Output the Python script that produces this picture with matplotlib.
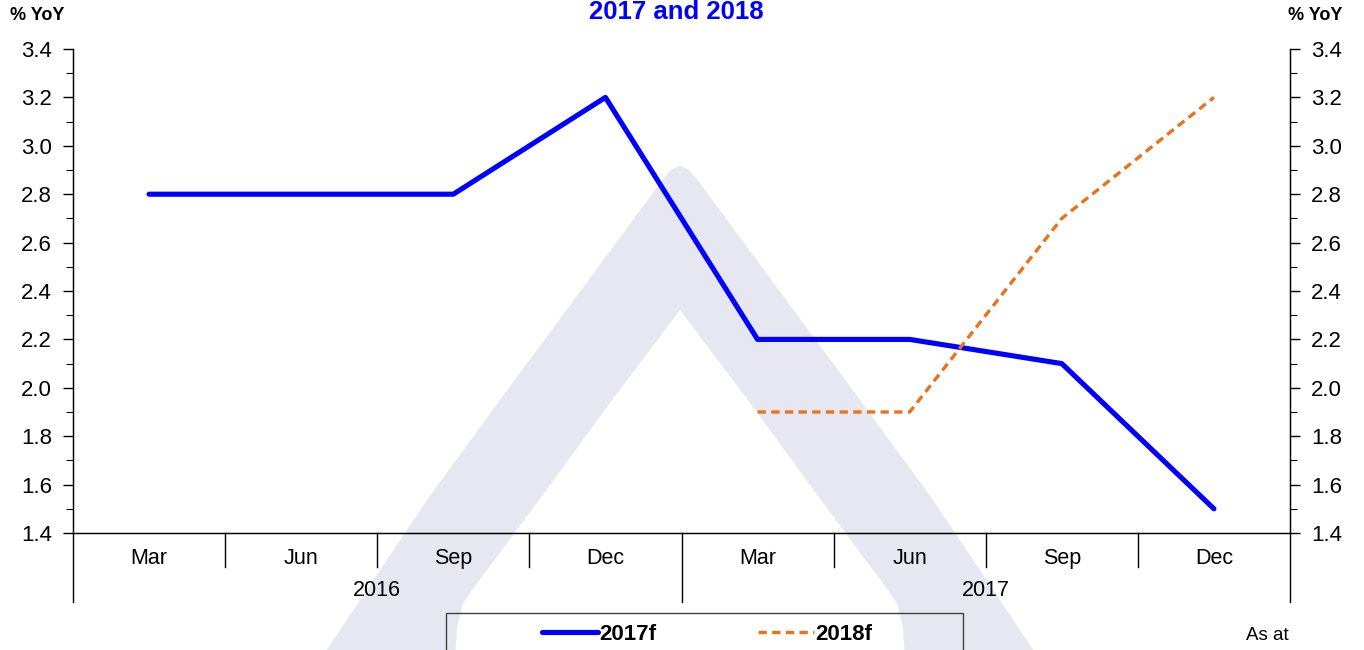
import matplotlib
matplotlib.use("Agg")
import matplotlib.pyplot as plt
import numpy as np
from matplotlib.lines import Line2D
from matplotlib.patches import Polygon, Rectangle
from matplotlib.ticker import MultipleLocator, FormatStrFormatter
import matplotlib.transforms as mtransforms

plt.rcParams["font.family"] = ["Liberation Sans", "DejaVu Sans"]

# data
months = ["Mar", "Jun", "Sep", "Dec", "Mar", "Jun", "Sep", "Dec"]
years = ["2016", "2017"]
f2017 = [2.8, 2.8, 2.8, 3.2, 2.2, 2.2, 2.1, 1.5]
f2018 = [np.nan, np.nan, np.nan, np.nan, 1.9, 1.9, 2.7, 3.2]
y_ticks = [1.4, 1.6, 1.8, 2.0, 2.2, 2.4, 2.6, 2.8, 3.0, 3.2, 3.4]

W, H = 1364, 650
fig = plt.figure(figsize=(W / 100, H / 100), dpi=100)


def fx(px):
    return px / W


def fy(py):
    return 1 - py / H


# faint logo in the background (pixel outline, left half mirrored)
cx = 680
outer_l = [(320, 660), (427, 500), (500, 400), (664, 178), (672, 169), (680, 166)]
inner_l = [(680, 310), (612, 400), (539, 500), (478, 582), (463, 603), (457, 628), (455, 660)]
outer_r = [(2 * cx - x, y) for x, y in reversed(outer_l[:-1])]
inner_r = [(2 * cx - x, y) for x, y in reversed(inner_l[1:])]
pts = outer_l + outer_r + inner_r + inner_l
logo = Polygon([(fx(x), fy(y)) for x, y in pts], closed=True, transform=fig.transFigure,
               facecolor="#e7e7f2", edgecolor="none", zorder=-5)
fig.patches.append(logo)

x0, x1, ytop, ybot = 73, 1290, 49, 533
ax = fig.add_axes([fx(x0), fy(ybot), fx(x1) - fx(x0), (ybot - ytop) / H])
ax.patch.set_alpha(0)
x = np.arange(len(months))

ax.plot(x, f2017, color="#0000ff", lw=3.7, solid_capstyle="round",
        solid_joinstyle="round", zorder=3)
ax.plot(x, f2018, color="#e8731e", lw=2.4, dashes=(2.5, 1.6), zorder=3)

ax.set_xlim(-0.5, 7.5)
ax.set_ylim(1.4, 3.4)
ax.set_yticks(y_ticks)
ax.yaxis.set_minor_locator(MultipleLocator(0.1))
ax.yaxis.set_major_formatter(FormatStrFormatter("%.1f"))
ax.tick_params(axis="y", which="major", length=7, width=1, labelsize=16, pad=8)
ax.tick_params(axis="y", which="minor", length=5, width=0.8)
ax.set_xticks(x)
ax.set_xticklabels(months)
ax.tick_params(axis="x", length=0, labelsize=15.5, pad=11)
ax.spines["top"].set_visible(False)
for s in ["left", "right", "bottom"]:
    ax.spines[s].set_linewidth(1)

ax2 = ax.twinx()
ax2.set_ylim(1.4, 3.4)
ax2.set_yticks(y_ticks)
ax2.yaxis.set_minor_locator(MultipleLocator(0.1))
ax2.yaxis.set_major_formatter(FormatStrFormatter("%.1f"))
ax2.tick_params(axis="y", which="major", length=7, width=1, labelsize=16, pad=8)
ax2.tick_params(axis="y", which="minor", length=5, width=0.8)
ax2.spines["top"].set_visible(False)
ax2.patch.set_alpha(0)

# category dividers below the axis
trans = mtransforms.blended_transform_factory(ax.transData, ax.transAxes)
short = (ybot - 567) / (ybot - ytop)
long_ = (ybot - 602) / (ybot - ytop)
for b in np.arange(-0.5, 8, 1.0):
    low = long_ if b in (-0.5, 3.5, 7.5) else short
    ax.plot([b, b], [0, low], color="black", lw=1, transform=trans, clip_on=False)
for i, yr in enumerate(years):
    ax.text(1.5 + 4 * i, (ybot - 591) / (ybot - ytop), yr, transform=trans,
            ha="center", va="center", fontsize=15.5)

fig.text(fx(676), fy(19), "2017 and 2018", ha="center", va="baseline",
         fontsize=18.5, fontweight="bold", color="#0000ff")
fig.text(fx(37), fy(20), "% YoY", ha="center", va="baseline", fontsize=13, fontweight="bold")
fig.text(fx(1315), fy(20), "% YoY", ha="center", va="baseline", fontsize=13, fontweight="bold")
fig.text(fx(1267), fy(636), "As at", ha="center", va="center", fontsize=13.5)

# legend box
fig.patches.append(Rectangle((fx(446), fy(662)), fx(963) - fx(446), (662 - 613) / H,
                             transform=fig.transFigure, facecolor="none",
                             edgecolor="#404040", lw=1))
handles = [Line2D([], [], color="#0000ff", lw=3.7, solid_capstyle="round"),
           Line2D([], [], color="#e8731e", lw=2.4, dashes=(2.5, 1.6))]
fig.legend(handles, ["2017f", "2018f"], loc="center", bbox_to_anchor=(fx(707), fy(634)),
           ncol=2, frameon=False, prop={"weight": "bold", "size": 16},
           handlelength=2.5, handletextpad=0.05, columnspacing=4.6)

fig.savefig("out.png", dpi=100)
